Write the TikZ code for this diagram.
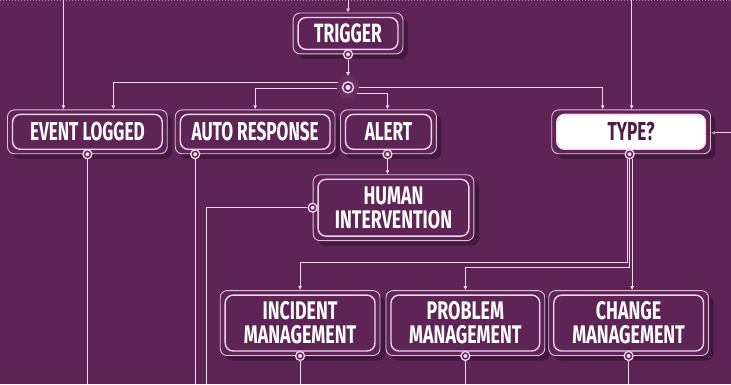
\documentclass[tikz,border=0pt]{standalone}
\usepackage{fontspec}
\newfontfamily\cf[FakeStretch=0.66]{Fira Sans}
\newfontfamily\cfb[FakeStretch=0.70]{Fira Sans}
\usetikzlibrary{arrows.meta,shadows,calc}
\definecolor{bg}{HTML}{5E2456}
\definecolor{ln}{HTML}{F2D6EC}
\definecolor{ob}{HTML}{E4BEDC}
\definecolor{dk}{HTML}{4E1B48}
\definecolor{jf}{HTML}{6A2F62}
\pgfdeclarelayer{back}
\pgfdeclarelayer{wires}
\pgfsetlayers{back,wires,main}
\tikzset{
 outerbox/.style={draw=ob, line width=0.9pt, rounded corners=7pt, fill=bg, inner sep=0pt,
   drop shadow={shadow xshift=5pt,shadow yshift=-5pt,opacity=0.3,fill=black}},
 innerbox/.style={draw=ln, line width=1.4pt, rounded corners=8pt, text=white, align=center,
   font=\cf\bfseries\fontsize{26}{21}\selectfont, inner sep=0pt},
 twoline/.style={font=\cfb\bfseries\fontsize{25.5}{24}\selectfont},
 wire/.style={draw=ln, line width=1pt},
 arr/.style={wire, -{Latex[length=4pt,width=4pt]}},
 dot/.style={circle, draw=ln, line width=1.3pt, fill=bg, minimum size=9pt, inner sep=0pt,
   path picture={\fill[ln] (path picture bounding box.center) circle (2pt);}},
}
\newcommand\mkbox[7]{%
 \node[outerbox, minimum width=#4pt, minimum height=#5pt] (#1) at (#2,#3) {};
 \node[innerbox, minimum width=#4pt-10pt, minimum height=#5pt-9pt, #6] (#1L) at (#1.center) {#7};
}
\begin{document}
\begin{tikzpicture}[x=1pt,y=-1pt]
\begin{pgfonlayer}{back}
\fill[bg] (0,0) rectangle (731,385);
\draw[ln, dotted, line width=1pt, opacity=0.5] (0,0.8) -- (731,0.8);
\end{pgfonlayer}
\useasboundingbox (0,0) rectangle (731,385);

\mkbox{trig}{348}{33.5}{110}{41}{font=\cf\bfseries\fontsize{26.5}{24}\selectfont}{TRIGGER}
\mkbox{evt}{87}{132}{160}{44}{}{EVENT LOGGED}
\mkbox{auto}{255}{132}{160}{44}{}{AUTO RESPONSE}
\mkbox{alert}{388.5}{132}{96}{44}{}{ALERT}
\mkbox{type}{631.5}{132}{159}{44}{fill=white,text=dk,draw=ln}{TYPE?}
\mkbox{hum}{393.5}{208}{161}{66}{twoline}{HUMAN\\INTERVENTION}
\mkbox{inc}{300}{323.5}{160}{65}{twoline}{INCIDENT\\MANAGEMENT}
\mkbox{prob}{465.5}{323.5}{159}{65}{twoline}{PROBLEM\\MANAGEMENT}
\mkbox{chg}{629}{323.5}{160}{65}{twoline}{CHANGE\\MANAGEMENT}

% junction
\node[circle, fill=jf, minimum size=22pt, inner sep=0pt] (jn) at (348,87.5) {};
\node[circle, draw=ln, line width=1.4pt, fill=bg, minimum size=11pt, inner sep=0pt,
  path picture={\fill[ln] (path picture bounding box.center) circle (2.6pt);}] (jnc) at (jn.center) {};

% connector dots
\node[dot] (trigd) at (trig.south) {};
\node[dot] (evtd) at (evt.south) {};
\node[dot] (autod) at ([xshift=-60pt]auto.south) {};
\node[dot] (alertd) at ([xshift=-1pt]alert.south) {};
\node[dot] (typed) at ([xshift=-1.5pt]type.south) {};
\node[dot] (humd) at (hum.west) {};
\node[dot] (incd) at (inc.south) {};
\node[dot] (probd) at (prob.south) {};
\node[dot] (chgd) at (chg.south) {};

\coordinate (tl) at (63,0);
\coordinate (tr) at (632,0);
\coordinate (tt) at (348,0);
\coordinate (bot) at (0,385);
\coordinate (hb) at (206,385);
\coordinate (rin) at (731,133);
\coordinate (t1) at (300,263);
\coordinate (t2) at (465.5,268);
\coordinate (tyL) at ([xshift=-2.5pt]typed.south);
\coordinate (tyR) at ([xshift=2.5pt]typed.south);

\begin{pgfonlayer}{wires}
\draw[arr] (tl) -- (tl |- evt.north);
\draw[arr] (tr) -- (tr |- type.north);
\draw[arr] (tt) -- (trig.north);
\draw[arr] (trigd.south) -- (jn.north);
\draw[arr] ($(jn.center)+(-9,-5)$) -| ([xshift=26pt]evt.north);
\draw[arr] ($(jn.center)+(-11,1)$) -| (auto.north);
\draw[arr] ($(jn.center)+(8,6)$) -| (alertd |- alert.north);
\draw[arr] ($(jn.center)+(11,0)$) -| ([xshift=-28.5pt]type.north);
\draw[arr] (alertd) -- (alertd |- hum.north);
\draw[wire] (evtd) -- (evtd |- bot);
\draw[wire] (autod) -- (autod |- bot);
\draw[wire] (humd) -| (hb);
\draw[wire] (incd) -- (incd |- bot);
\draw[wire] (probd) -- (probd |- bot);
\draw[wire] (chgd) -- (chgd |- bot);
\draw[arr] (tyL) |- (t1) -- (inc.north);
\draw[arr] (typed.south) |- (t2) -- (prob.north);
\draw[arr] (tyR) -- (tyR |- chg.north);
\draw[arr] (rin) -- (rin -| type.east);
\end{pgfonlayer}
\end{tikzpicture}
\end{document}
